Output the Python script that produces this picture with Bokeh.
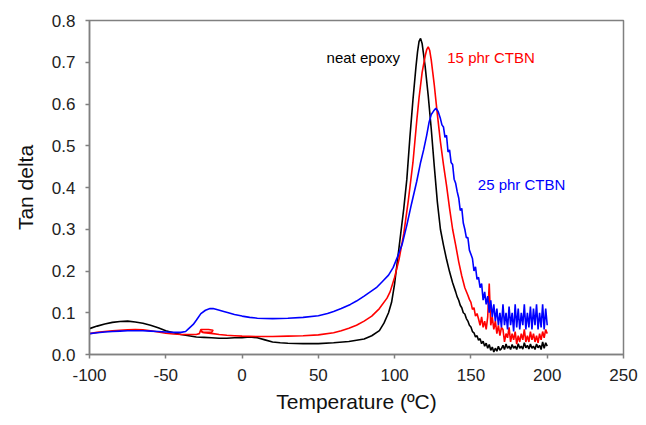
from bokeh.plotting import figure
from bokeh.models import Range1d, Label, FixedTicker
from bokeh.embed import file_html
from bokeh.resources import INLINE

# ---------------- data ----------------
# neat epoxy (black)
t_neat = [-100, -95, -90, -85, -80, -75, -70, -65, -60, -55, -50, -45, -40, -35, -30, -25,
          -20, -15, -10, -5, 0, 5, 10, 15, 20, 25, 30, 40, 50, 60, 70, 75, 80, 85, 90, 93,
          96, 98, 100, 102, 104, 106, 108, 110, 112, 114, 115, 116, 117, 118, 120, 122, 124,
          126, 128, 130, 132, 134, 136, 138, 140, 141, 142, 143, 144, 145, 146, 147, 148, 149,
          150, 151, 152, 153, 154, 155, 156, 157, 158, 159, 160, 161, 162, 163, 164, 165, 166,
          167, 168, 169, 170, 171, 172, 173, 174, 175, 176, 177, 178, 179, 180, 181, 182, 183,
          184, 185, 186, 187, 188, 189, 190, 191, 192, 193, 194, 195, 196, 197, 198, 199, 200]
tan_neat = [0.062, 0.068, 0.073, 0.077, 0.079, 0.080, 0.078, 0.075, 0.070, 0.064, 0.057, 0.052,
            0.048, 0.045, 0.042, 0.041, 0.040, 0.039, 0.039, 0.040, 0.040, 0.042, 0.040, 0.035,
            0.030, 0.028, 0.027, 0.026, 0.026, 0.028, 0.031, 0.034, 0.037, 0.045, 0.057, 0.075,
            0.100, 0.125, 0.170, 0.230, 0.290, 0.350, 0.420, 0.520, 0.610, 0.690, 0.725, 0.750,
            0.757, 0.745, 0.690, 0.620, 0.540, 0.450, 0.365, 0.300, 0.262, 0.228, 0.198, 0.172,
            0.150, 0.138, 0.130, 0.118, 0.112, 0.100, 0.097, 0.086, 0.080, 0.070, 0.066, 0.055,
            0.052, 0.042, 0.045, 0.034, 0.038, 0.026, 0.032, 0.020, 0.027, 0.015, 0.024, 0.010,
            0.018, 0.006, 0.015, 0.008, 0.020, 0.010, 0.014, 0.022, 0.012, 0.025, 0.015, 0.020,
            0.012, 0.024, 0.015, 0.020, 0.012, 0.026, 0.015, 0.020, 0.013, 0.028, 0.016, 0.022,
            0.013, 0.025, 0.015, 0.020, 0.012, 0.025, 0.016, 0.022, 0.012, 0.030, 0.015, 0.028,
            0.020]

# 15 phr CTBN (red)
t_15 = [-100, -95, -90, -85, -80, -75, -70, -65, -60, -55, -50, -45, -40, -35, -30, -28,
        -27, -22, -19, -20, -26, -27.5, -25, -19, -15, -10, -5, 0, 10, 20, 30, 40, 50, 60, 65,
        70, 75, 80, 85, 90, 95, 97, 100, 103, 106, 109, 112, 114.5, 116, 118, 120, 121, 122,
        123, 124, 125, 126, 127, 128, 130, 132, 134, 136, 138, 140, 142, 144, 146, 148, 149, 150,
        151, 152, 153, 154, 155, 156, 157, 158, 159, 160, 161, 162, 163, 164, 165, 166, 167,
        168, 169, 170, 171, 172, 173, 174, 175, 176, 177, 178, 179, 180, 181, 182, 183, 184,
        185, 186, 187, 188, 189, 190, 191, 192, 193, 194, 195, 196, 197, 198, 199, 200]
tan_15 = [0.050, 0.053, 0.055, 0.057, 0.058, 0.059, 0.060, 0.059, 0.057, 0.054, 0.051, 0.049,
          0.048, 0.048, 0.048, 0.050, 0.060, 0.060, 0.058, 0.053, 0.053, 0.058, 0.052, 0.050,
          0.048, 0.046, 0.045, 0.044, 0.043, 0.043, 0.044, 0.045, 0.047, 0.052, 0.057, 0.063,
          0.070, 0.080, 0.092, 0.110, 0.135, 0.150, 0.185, 0.230, 0.290, 0.370, 0.460, 0.560,
          0.615, 0.675, 0.715, 0.730, 0.737, 0.728, 0.705, 0.675, 0.645, 0.610, 0.575, 0.510,
          0.455, 0.405, 0.350, 0.300, 0.262, 0.222, 0.188, 0.160, 0.142, 0.132, 0.125, 0.108,
          0.112, 0.092, 0.098, 0.085, 0.070, 0.090, 0.065, 0.080, 0.060, 0.090, 0.170, 0.070,
          0.090, 0.060, 0.080, 0.050, 0.070, 0.045, 0.065, 0.060, 0.030, 0.050, 0.040, 0.065,
          0.030, 0.050, 0.035, 0.055, 0.025, 0.045, 0.030, 0.050, 0.035, 0.060, 0.030, 0.045,
          0.030, 0.055, 0.035, 0.050, 0.030, 0.045, 0.028, 0.050, 0.035, 0.055, 0.040, 0.060,
          0.050]

# 25 phr CTBN (blue)
t_25 = [-100, -95, -90, -85, -80, -75, -70, -65, -60, -55, -50, -45, -40, -37, -35, -32, -30,
        -27, -24, -21, -19, -16, -12, -9, -5, 0, 5, 10, 20, 30, 40, 50, 56, 60, 65, 71, 75, 80,
        84, 88, 92, 96, 99, 102, 105, 108, 111, 114.5, 117, 119, 121, 122.5, 124, 125.5, 127,
        128.5, 130, 131, 132, 133, 134, 135, 136, 137, 138, 139, 140, 141, 142, 143, 144, 145,
        146, 147, 148, 149, 150, 151, 152, 153, 154, 155, 156, 157, 158, 159, 160, 161, 162,
        163, 164, 165, 166, 167, 168, 169, 170, 171, 172, 173, 174, 175, 176, 177, 178, 179,
        180, 181, 182, 183, 184, 185, 186, 187, 188, 189, 190, 191, 192, 193, 194, 195, 196,
        197, 198, 199, 200]
tan_25 = [0.050, 0.052, 0.054, 0.055, 0.056, 0.057, 0.057, 0.057, 0.056, 0.055, 0.054, 0.053,
          0.053, 0.055, 0.062, 0.072, 0.082, 0.098, 0.106, 0.110, 0.110, 0.107, 0.103, 0.100,
          0.096, 0.092, 0.089, 0.087, 0.086, 0.087, 0.089, 0.093, 0.098, 0.103, 0.110, 0.120,
          0.128, 0.140, 0.150, 0.160, 0.175, 0.190, 0.208, 0.235, 0.265, 0.310, 0.360, 0.415,
          0.460, 0.490, 0.525, 0.555, 0.575, 0.583, 0.590, 0.582, 0.565, 0.550, 0.545, 0.520,
          0.525, 0.485, 0.490, 0.460, 0.455, 0.420, 0.410, 0.390, 0.375, 0.345, 0.350, 0.315,
          0.300, 0.280, 0.280, 0.250, 0.240, 0.230, 0.200, 0.210, 0.180, 0.185, 0.160, 0.170,
          0.130, 0.150, 0.120, 0.140, 0.100, 0.130, 0.090, 0.120, 0.080, 0.110, 0.070, 0.100,
          0.065, 0.120, 0.070, 0.100, 0.060, 0.115, 0.070, 0.100, 0.055, 0.120, 0.065, 0.110,
          0.060, 0.100, 0.070, 0.120, 0.060, 0.100, 0.065, 0.115, 0.060, 0.110, 0.070, 0.120,
          0.060, 0.100, 0.065, 0.120, 0.060, 0.110, 0.070]

x_ticks = [-100, -50, 0, 50, 100, 150, 200, 250]
x_tick_labels = {v: str(v) for v in x_ticks}
y_ticks = [0.0, 0.1, 0.2, 0.3, 0.4, 0.5, 0.6, 0.7, 0.8]
y_tick_labels = {v: f"{v:.1f}" for v in y_ticks}

labels = ["neat epoxy", "15 phr CTBN", "25 phr CTBN"]
label_x = [103.5, 134.5, 154.5]
label_y = [0.711, 0.711, 0.406]
colors = ["#000000", "#ff0000", "#0000ff"]

FONT = "Liberation Sans"

p = figure(width=638, height=417, output_backend="svg", toolbar_location=None,
           x_range=Range1d(-100, 250), y_range=Range1d(0, 0.8),
           min_border_left=89, min_border_right=15, min_border_top=20, min_border_bottom=63)

p.xgrid.visible = False
p.ygrid.visible = False
p.outline_line_color = "#808080"
p.outline_line_width = 1.5
p.background_fill_color = "white"
p.border_fill_color = "white"

for ax in (p.xaxis[0], p.yaxis[0]):
    ax.axis_line_color = "#808080"
    ax.axis_line_width = 1.5
    ax.major_tick_line_color = "#808080"
    ax.major_tick_line_width = 1.5
    ax.major_tick_out = 4
    ax.major_tick_in = 0
    ax.minor_tick_line_color = None
    ax.major_label_text_font = FONT
    ax.major_label_text_font_size = "17px"
    ax.major_label_text_color = "#222222"
    ax.axis_label_text_font = FONT
    ax.axis_label_text_font_size = "21px"
    ax.axis_label_text_font_style = "normal"
    ax.axis_label_text_color = "#111111"

p.xaxis.ticker = FixedTicker(ticks=x_ticks)
p.yaxis.ticker = FixedTicker(ticks=y_ticks)
p.xaxis.major_label_overrides = x_tick_labels
p.yaxis.major_label_overrides = y_tick_labels
p.xaxis.axis_label = "Temperature (ºC)"
p.yaxis.axis_label = "Tan delta"
p.xaxis.major_label_standoff = 10
p.xaxis.axis_label_standoff = 6
p.yaxis.major_label_standoff = 10
p.yaxis.axis_label_standoff = 12

p.line(t_neat, tan_neat, line_color=colors[0], line_width=1.6)
p.line(t_15, tan_15, line_color=colors[1], line_width=1.6)
p.line(t_25, tan_25, line_color=colors[2], line_width=1.6)

aligns = ["right", "left", "left"]
for txt, x, y, c, a in zip(labels, label_x, label_y, colors, aligns):
    p.add_layout(Label(x=x, y=y, text=txt, text_color=c, text_font=FONT,
                       text_font_size="15px", text_align=a, text_baseline="middle"))

open("out.html", "w").write(file_html(p, INLINE))
